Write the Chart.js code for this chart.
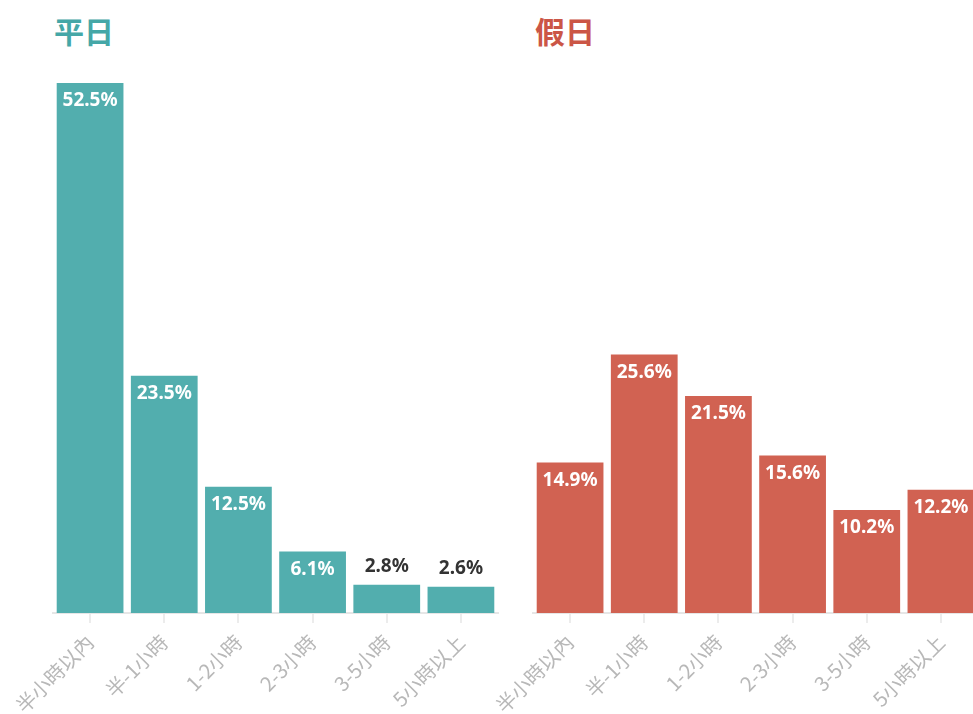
<!DOCTYPE html>
<html>
<head>
<meta charset="utf-8">
<script src="https://cdn.jsdelivr.net/npm/chart.js@4"></script>
<style>
  html, body { margin: 0; padding: 0; background: #fff; overflow: hidden; }
  #wrap { position: relative; width: 973px; height: 714px; overflow: hidden; }
  .title { position: absolute; top: 8px; margin: 0; font: bold 30px "Noto Sans CJK TC", sans-serif; }
  canvas { position: absolute; top: 0; }
</style>
</head>
<body>
<div id="wrap">
  <h2 class="title" style="left:54px;color:#45a7a7">平日</h2>
  <h2 class="title" style="left:535px;color:#cb5646">假日</h2>
  <canvas id="weekday" width="510" height="714" style="left:0"></canvas>
  <canvas id="holiday" width="510" height="714" style="left:480px"></canvas>
</div>
<script>
const categories = ["半小時以內", "半-1小時", "1-2小時", "2-3小時", "3-5小時", "5小時以上"];
const weekdayValues = [52.5, 23.5, 12.5, 6.1, 2.8, 2.6];
const holidayValues = [14.9, 25.6, 21.5, 15.6, 10.2, 12.2];
const yMax = 52.5;

const FONT = '"Noto Sans", "Noto Sans CJK TC", sans-serif';

// draws the % labels: inside the bar when it is tall enough, above it otherwise
const barLabels = {
  id: "barLabels",
  afterDatasetsDraw(chart) {
    const ctx = chart.ctx;
    const ds = chart.data.datasets[0];
    const meta = chart.getDatasetMeta(0);
    ctx.save();
    ctx.font = "bold 19px " + FONT;
    ctx.textAlign = "center";
    ctx.textBaseline = "middle";
    meta.data.forEach((bar, i) => {
      const text = ds.data[i].toFixed(1) + "%";
      if (bar.base - bar.y > 40) {
        ctx.lineWidth = 3;
        ctx.lineJoin = "round";
        ctx.strokeStyle = ds.backgroundColor;
        ctx.strokeText(text, bar.x, bar.y + 18);
        ctx.fillStyle = "#fff";
        ctx.fillText(text, bar.x, bar.y + 18);
      } else {
        ctx.fillStyle = "#333";
        ctx.fillText(text, bar.x, bar.y - 18);
      }
    });
    ctx.restore();
  }
};

function makeChart(id, values, color) {
  const ctx = document.getElementById(id).getContext("2d");
  return new Chart(ctx, {
    type: "bar",
    data: {
      labels: categories,
      datasets: [{
        data: values,
        backgroundColor: color,
        barPercentage: 0.9,
        categoryPercentage: 1.0,
      }],
    },
    options: {
      responsive: false,
      animation: false,
      devicePixelRatio: 1,
      layout: { padding: { left: 53, right: 12, top: 83, bottom: 0 } },
      plugins: { legend: { display: false }, tooltip: { enabled: false } },
      scales: {
        x: {
          afterFit: (scale) => { scale.height = 101; },
          border: { color: "#e6e6e6", width: 2 },
          grid: { offset: false, drawOnChartArea: false, color: "#ececec", tickLength: 10, lineWidth: 2 },
          ticks: {
            color: "#b8b8b8",
            font: { family: '"Noto Sans CJK TC", sans-serif', size: 20 },
            minRotation: 45,
            maxRotation: 45,
            padding: 7,
          },
        },
        y: { display: false, min: 0, max: yMax },
      },
    },
    plugins: [barLabels],
  });
}

makeChart("weekday", weekdayValues, "#52aeae");
makeChart("holiday", holidayValues, "#d16252");
</script>
</body>
</html>
